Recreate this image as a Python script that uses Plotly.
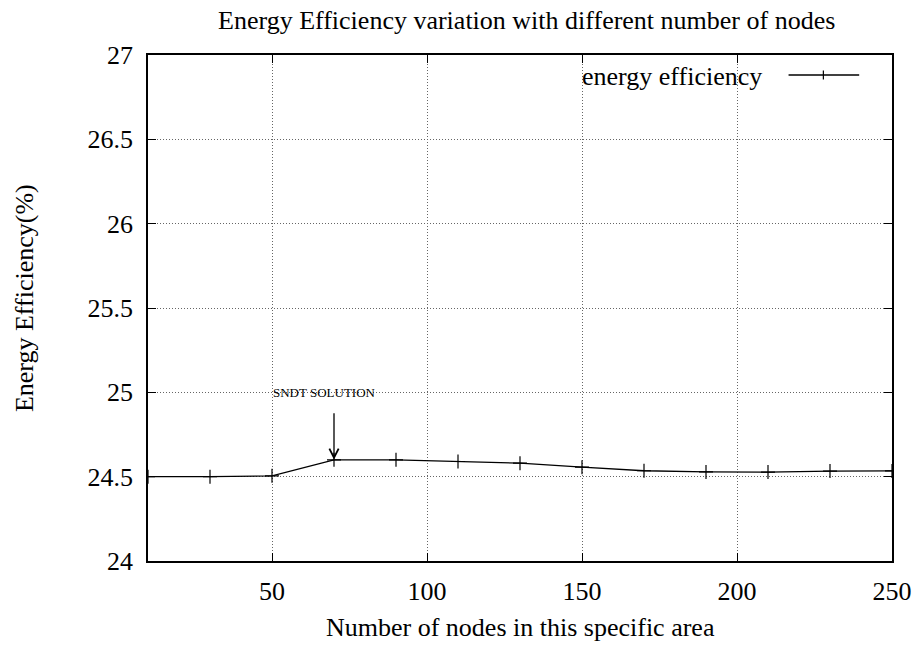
import plotly.graph_objects as go

# Energy efficiency measured for increasing node counts
nodes = [10, 30, 50, 70, 90, 110, 130, 150, 170, 190, 210, 230, 250]
efficiency = [24.5, 24.5, 24.505, 24.6, 24.6, 24.59, 24.58, 24.556, 24.535,
              24.528, 24.527, 24.533, 24.534]

x_ticks = [50, 100, 150, 200, 250]
y_ticks = [24, 24.5, 25, 25.5, 26, 26.5, 27]
y_tick_text = ["24", "24.5", "25", "25.5", "26", "26.5", "27"]

FONT = "'Liberation Serif', 'Times New Roman', serif"

fig = go.Figure()
fig.add_trace(go.Scatter(
    x=nodes, y=efficiency, mode="lines+markers", name="energy efficiency",
    line=dict(color="black", width=1.3),
    marker=dict(symbol="cross-thin", size=10, color="black",
                line=dict(width=1.2, color="black")),
    showlegend=False,
))

axis_common = dict(
    showline=True, linecolor="black", linewidth=1.8, mirror="ticks",
    ticks="inside", ticklen=8, tickcolor="black", tickwidth=1.2,
    showgrid=True, gridcolor="#666666", griddash="1px,2px", gridwidth=1,
    zeroline=False, tickfont=dict(family=FONT, size=26, color="black"),
)

fig.update_xaxes(range=[10, 250], tickvals=x_ticks, ticklabelstandoff=6,
                 **axis_common)
fig.update_yaxes(range=[24, 27], tickvals=y_ticks, ticktext=y_tick_text,
                 ticklabelstandoff=8, **axis_common)

annotations = [
    # axis titles
    dict(text="Number of nodes in this specific area", xref="paper", yref="paper",
         x=0.5, y=-0.132, showarrow=False, xanchor="center", yanchor="middle",
         font=dict(family=FONT, size=26, color="black")),
    dict(text="Energy Efficiency(%)", xref="paper", yref="paper",
         x=-0.165, y=0.52, showarrow=False, textangle=-90,
         xanchor="center", yanchor="middle",
         font=dict(family=FONT, size=26, color="black")),
    # SNDT label and arrow
    dict(text="SNDT SOLUTION", xref="x", yref="y", x=67, y=25.0,
         showarrow=False, xanchor="center", yanchor="middle",
         font=dict(family=FONT, size=13, color="black")),
    dict(text="", xref="x", yref="y", x=70, y=24.6, axref="x", ayref="y",
         ax=70, ay=24.885, showarrow=True, arrowhead=5, arrowsize=1.4,
         arrowwidth=1.3, arrowcolor="black"),
    # legend text
    dict(text="energy efficiency", xref="paper", yref="paper",
         x=(767 - 148) / 748, y=(561 - 76) / 506, showarrow=False,
         xanchor="right", yanchor="middle",
         font=dict(family=FONT, size=26, color="black")),
]

# legend sample: line with a cross marker
ly = (561 - 75) / 506
shapes = [
    dict(type="line", xref="paper", yref="paper", x0=(792 - 148) / 748,
         x1=(863 - 148) / 748, y0=ly, y1=ly, line=dict(color="black", width=1.3)),
    dict(type="line", xref="paper", yref="paper", x0=(827 - 148) / 748,
         x1=(827 - 148) / 748, y0=ly - 0.009, y1=ly + 0.009,
         line=dict(color="black", width=1.2)),
]

fig.update_layout(
    width=924, height=645,
    margin=dict(l=148, r=28, t=55, b=84),
    paper_bgcolor="white", plot_bgcolor="white",
    title=dict(text="Energy Efficiency variation with different number of nodes",
               x=0.57, xanchor="center", y=1 - 20 / 645, yref="container",
               yanchor="middle", font=dict(family=FONT, size=26, color="black")),
    annotations=annotations, shapes=shapes,
    font=dict(family=FONT, color="black"),
)

fig.write_html("out.html")
